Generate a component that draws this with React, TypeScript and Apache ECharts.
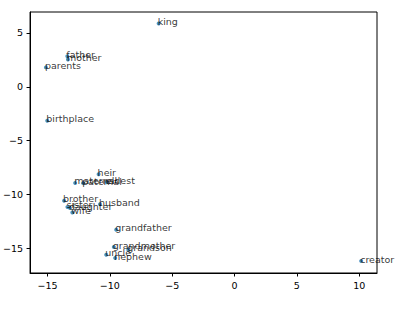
import React, { useEffect, useRef } from "react";
import * as echarts from "echarts";

const words = [
  "king", "father", "mother", "parents", "birthplace", "heir", "maternal", "paternal", "eldest",
  "brother", "sister", "daughter", "wife", "husband", "grandfather", "grandmother", "grandson",
  "uncle", "nephew", "creator",
];
const xs = [
  -6.08, -13.41, -13.36, -15.13, -15.02, -10.9, -12.78, -12.14, -10.24,
  -13.67, -13.4, -13.2, -13.01, -10.79, -9.49, -9.68, -8.52,
  -10.29, -9.57, 10.16,
];
const ys = [
  5.87, 2.84, 2.54, 1.8, -3.15, -8.11, -8.92, -8.94, -8.85,
  -10.58, -11.15, -11.25, -11.67, -10.89, -13.27, -14.87, -15.12,
  -15.58, -15.89, -16.17,
];
const xTicks = [-15, -10, -5, 0, 5, 10];
const yTicks = [-15, -10, -5, 0, 5];

const fmt = (v: number) => String(v).replace("-", "\u2212");

export default function App() {
  const ref = useRef<HTMLDivElement>(null);
  useEffect(() => {
    document.body.style.margin = "0";
    const chart = echarts.init(ref.current!, null, { renderer: "svg" });
    const font = "DejaVu Sans";
    chart.setOption({
      animation: false,
      backgroundColor: "#ffffff",
      grid: {
        left: 27, top: 12, width: 350, height: 261,
        show: true, borderColor: "#000", borderWidth: 1, backgroundColor: "transparent",
      },
      xAxis: {
        type: "value", min: -16.4, max: 11.43,
        splitLine: { show: false },
        axisLine: { show: true, onZero: false, lineStyle: { color: "#000", width: 1 } },
        axisTick: { show: true, length: 3.5, customValues: xTicks, lineStyle: { color: "#000" } },
        axisLabel: {
          customValues: xTicks, formatter: fmt, margin: 7,
          color: "#000", fontFamily: font, fontSize: 9.5,
        },
      },
      yAxis: {
        type: "value", min: -17.28, max: 6.94,
        splitLine: { show: false },
        axisLine: { show: true, onZero: false, lineStyle: { color: "#000", width: 1 } },
        axisTick: { show: true, length: 3.5, customValues: yTicks, lineStyle: { color: "#000" } },
        axisLabel: {
          customValues: yTicks, formatter: fmt, margin: 7,
          color: "#000", fontFamily: font, fontSize: 9.5,
        },
      },
      series: [
        {
          type: "scatter",
          symbolSize: 4,
          itemStyle: { color: "#1f77b4" },
          data: words.map((w, i) => ({ name: w, value: [xs[i], ys[i]] })),
          label: {
            show: true,
            formatter: (p: any) => p.name,
            position: [1, 5],
            align: "left",
            verticalAlign: "bottom",
            color: "#000",
            fontFamily: font,
            fontSize: 9.5,
          },
          labelLayout: { hideOverlap: false },
        },
      ],
    });
    return () => chart.dispose();
  }, []);
  return <div ref={ref} style={{ width: 397, height: 310 }} />;
}
